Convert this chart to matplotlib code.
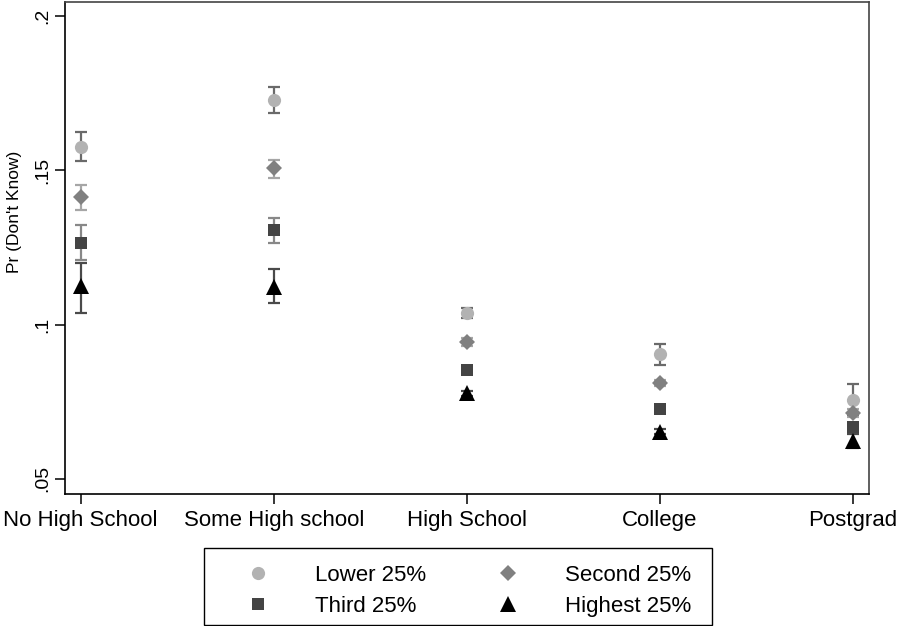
import matplotlib
matplotlib.use("Agg")
import matplotlib.pyplot as plt
from matplotlib.patches import Rectangle
import numpy as np

plt.rcParams['font.family'] = ['Liberation Sans', 'DejaVu Sans']

categories = ["No High School", "Some High school", "High School", "College", "Postgrad"]
series_names = ["Lower 25%", "Second 25%", "Third 25%", "Highest 25%"]

lower_mean = [0.1577, 0.1728, 0.1037, 0.0905, 0.0756]
lower_lo = [0.1530, 0.1685, 0.1020, 0.0869, 0.0704]
lower_hi = [0.1625, 0.1771, 0.1054, 0.0937, 0.0808]

second_mean = [0.1413, 0.1507, 0.0943, 0.0812, 0.0713]
second_lo = [0.1372, 0.1476, 0.0931, 0.0802, 0.0700]
second_hi = [0.1452, 0.1534, 0.0955, 0.0822, 0.0726]

third_mean = [0.1264, 0.1305, 0.0853, 0.0726, 0.0668]
third_lo = [0.1210, 0.1264, 0.0843, 0.0719, 0.0658]
third_hi = [0.1323, 0.1347, 0.0863, 0.0733, 0.0678]

highest_mean = [0.1125, 0.1123, 0.0778, 0.0653, 0.0624]
highest_lo = [0.1037, 0.1071, 0.0770, 0.0645, 0.0601]
highest_hi = [0.1200, 0.1180, 0.0786, 0.0661, 0.0647]

yticks = [0.05, 0.10, 0.15, 0.20]
ytick_labels = [".05", ".1", ".15", ".2"]

means = [lower_mean, second_mean, third_mean, highest_mean]
los = [lower_lo, second_lo, third_lo, highest_lo]
his = [lower_hi, second_hi, third_hi, highest_hi]
markers = ['o', 'D', 's', '^']
msizes = [9.5, 8.2, 9.0, 11.0]
mcolors = ['#b2b2b2', '#808080', '#444444', '#000000']
ecolors = ['#6a6a6a', '#a6a6a6', '#888888', '#4a4a4a']

fig = plt.figure(figsize=(9, 6.26), dpi=100)
ax = fig.add_axes([65/900, 1 - 494/626, (869-65)/900, (494-1.5)/626])

x = np.arange(1, len(categories) + 1)
handles = []
for i in range(4):
    m = np.array(means[i]); lo = np.array(los[i]); hi = np.array(his[i])
    ax.errorbar(x, m, yerr=[m - lo, hi - m], fmt='none', ecolor=ecolors[i],
                elinewidth=1.6, capsize=4.6, capthick=1.6, zorder=2)
    h, = ax.plot(x, m, linestyle='none', marker=markers[i], markersize=msizes[i],
                 color=mcolors[i], markeredgewidth=0, zorder=3 + i, label=series_names[i])
    handles.append(h)

ax.set_xlim(0.919, 5.083)
ax.set_ylim(0.0451, 0.2047)
ax.set_xticks(x)
ax.set_xticklabels(categories, fontsize=16)
ax.set_yticks(yticks)
ax.set_yticklabels(ytick_labels, fontsize=14, rotation=90, va='center')
ax.tick_params(axis='both', length=7.2, width=1.1, color='black', pad=3)
ax.tick_params(axis='x', pad=4)
ax.set_ylabel("Pr (Don't Know)", fontsize=12.5)
ax.yaxis.set_label_coords(-0.054, 0.573)

for s in ['left', 'bottom']:
    ax.spines[s].set_color('black')
    ax.spines[s].set_linewidth(1.2)
for s in ['top', 'right']:
    ax.spines[s].set_color('#444444')
    ax.spines[s].set_linewidth(1.2)

fs = 16
em = fs * 100 / 72
order = [0, 2, 1, 3]
leg = fig.legend(handles=[handles[k] for k in order], ncol=2, frameon=False, loc='upper left',
                 bbox_to_anchor=(214/900, (626 - 565)/626), borderpad=0, borderaxespad=0,
                 handlelength=88/em, handletextpad=13/em, columnspacing=38/em,
                 labelspacing=0.44, fontsize=fs)
fig.add_artist(Rectangle((204/900, 1/626), 508/900, 77/626, transform=fig.transFigure,
                         fill=False, ec='black', lw=1.0))

fig.savefig("out.png", dpi=100)
